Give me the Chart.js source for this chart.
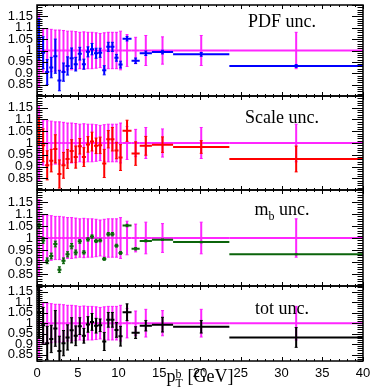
<!DOCTYPE html>
<html>
<head>
<meta charset="utf-8">
<script src="https://cdn.jsdelivr.net/npm/chart.js@4.4.1/dist/chart.umd.min.js"></script>
<style>
  html, body { margin: 0; padding: 0; background: #fff; }
  #wrap { position: relative; width: 374px; height: 392px; }
  #wrap canvas { position: absolute; left: 0; top: 0; }
</style>
</head>
<body>
<div id="wrap">
  <canvas id="p1" width="374" height="392"></canvas>
  <canvas id="p2" width="374" height="392"></canvas>
  <canvas id="p3" width="374" height="392"></canvas>
  <canvas id="p4" width="374" height="392"></canvas>
</div>
<script>
// pT bins (GeV)
const binEdges = [0, 0.5, 1, 1.5, 2, 2.5, 3, 3.5, 4, 4.5, 5, 5.5, 6, 6.5, 7, 7.5, 8, 8.5, 9, 9.5, 10, 10.5,
  11.6, 12.6, 14.1, 16.7, 23.6, 40];
// ratio central values (same in every panel)
const ratio = [1.05, 0.99, 0.905, 0.925, 0.975, 0.868, 0.905, 0.932, 0.966, 0.94, 0.986, 0.94, 0.994, 1.006,
  0.988, 0.99, 0.913, 1.016, 1.016, 0.968, 0.938, 1.052, 0.955, 0.988, 0.993, 0.983, 0.932];
// reference band (magenta), drawn at 1
const refErr = [0.16, 0.095, 0.095, 0.093, 0.09, 0.09, 0.088, 0.085, 0.085, 0.083, 0.08, 0.082, 0.08, 0.08,
  0.078, 0.075, 0.078, 0.08, 0.08, 0.08, 0.085, 0.07, 0.058, 0.066, 0.06, 0.066, 0.08];
const pdfErr = [0.09, 0.07, 0.055, 0.045, 0.075, 0.045, 0.04, 0.04, 0.045, 0.03, 0.028, 0.022, 0.022, 0.025,
  0.022, 0.02, 0.02, 0.02, 0.02, 0.015, 0.015, 0.01, 0.012, 0.01, 0.008, 0.008, 0.006];
const scaleErr = [0.06, 0.07, 0.062, 0.048, 0.06, 0.06, 0.055, 0.04, 0.048, 0.047, 0.033, 0.04, 0.033, 0.04,
  0.033, 0.035, 0.06, 0.037, 0.05, 0.035, 0.055, 0.045, 0.05, 0.04, 0.033, 0.027, 0.055];
const mbErr = [0.012, 0.012, 0.012, 0.012, 0.012, 0.012, 0.012, 0.011, 0.011, 0.01, 0.008, 0.007, 0.007, 0.007,
  0.007, 0.006, 0.006, 0.007, 0.007, 0.006, 0.006, 0.005, 0.005, 0.004, 0.003, 0.003, 0.002];
const totErr = [0.12, 0.085, 0.08, 0.065, 0.085, 0.07, 0.06, 0.06, 0.06, 0.047, 0.04, 0.035, 0.037, 0.04,
  0.035, 0.03, 0.043, 0.035, 0.035, 0.035, 0.047, 0.04, 0.028, 0.025, 0.035, 0.03, 0.047];

const yTickLabels = [0.85, 0.9, 0.95, 1, 1.05, 1.1, 1.15];
const xTickLabels = [0, 5, 10, 15, 20, 25, 30, 35, 40];
const panelLabels = [
  [{ text: 'PDF unc.' }],
  [{ text: 'Scale unc.' }],
  [{ text: 'm' }, { text: 'b', sub: true }, { text: ' unc.' }],
  [{ text: 'tot unc.' }]
];
const xTitle = [{ text: 'p' }, { text: 'T', sub: true, pair: 'b' }, { text: ' [GeV]' }];

const panels = [
  { id: 'p1', err: pdfErr, color: '#0000ff', top: 5, bottom: 96, yMin: 0.8, yMax: 1.2, labelY: 22 },
  { id: 'p2', err: scaleErr, color: '#ff0000', top: 96, bottom: 190, yMin: 0.8, yMax: 1.2, labelY: 27 },
  { id: 'p3', err: mbErr, color: '#0b640b', top: 190, bottom: 286, yMin: 0.8, yMax: 1.2, labelY: 25 },
  { id: 'p4', err: totErr, color: '#000000', top: 286, bottom: 361, yMin: 0.82, yMax: 1.177, labelY: 28, showX: true }
];

function points(values, errs) {
  return values.map((v, i) => ({
    x: (binEdges[i] + binEdges[i + 1]) / 2,
    y: v,
    xLo: binEdges[i],
    xHi: binEdges[i + 1],
    err: errs[i]
  }));
}

// ROOT style error bars, small caps on the vertical ends
const errorBars = {
  id: 'errorBars',
  afterDatasetsDraw(chart) {
    const { ctx, chartArea: a, scales: { x, y } } = chart;
    ctx.save();
    ctx.beginPath();
    ctx.rect(a.left, a.top, a.right - a.left, a.bottom - a.top);
    ctx.clip();
    chart.data.datasets.forEach((ds, i) => {
      const meta = chart.getDatasetMeta(i);
      ctx.strokeStyle = ds.borderColor;
      meta.data.forEach((pt, j) => {
        const d = ds.data[j];
        const xl = x.getPixelForValue(d.xLo), xh = x.getPixelForValue(d.xHi);
        const yt = y.getPixelForValue(d.y + d.err), yb = y.getPixelForValue(d.y - d.err);
        ctx.lineWidth = 2;
        ctx.beginPath();
        ctx.moveTo(xl, pt.y); ctx.lineTo(xh, pt.y);
        ctx.moveTo(pt.x, yt); ctx.lineTo(pt.x, yb);
        ctx.stroke();
        ctx.lineWidth = 1;
        ctx.beginPath();
        ctx.moveTo(pt.x - 1.5, yt); ctx.lineTo(pt.x + 1.5, yt);
        ctx.moveTo(pt.x - 1.5, yb); ctx.lineTo(pt.x + 1.5, yb);
        ctx.stroke();
      });
    });
    ctx.restore();
  }
};

function drawParts(ctx, parts, cx, base, size) {
  const small = Math.round(size * 0.65);
  const widths = parts.map(p => {
    ctx.font = (p.sub ? small : size) + 'px "Liberation Serif"';
    let w = ctx.measureText(p.text).width;
    if (p.pair) w = Math.max(w, ctx.measureText(p.pair).width);
    return w;
  });
  let xx = cx - widths.reduce((s, w) => s + w, 0) / 2;
  ctx.fillStyle = '#000';
  ctx.textAlign = 'left';
  ctx.textBaseline = 'alphabetic';
  parts.forEach((p, i) => {
    ctx.font = (p.sub ? small : size) + 'px "Liberation Serif"';
    ctx.fillText(p.text, xx, p.sub ? base + 5 : base);
    if (p.pair) ctx.fillText(p.pair, xx, base - 4);
    xx += widths[i];
  });
}

// frame, inside ticks on all four sides, panel text
const frameTicks = {
  id: 'frameTicks',
  afterDraw(chart, args, opts) {
    const { ctx, chartArea: a, scales: { x, y } } = chart;
    ctx.save();
    ctx.strokeStyle = '#000';
    ctx.lineWidth = 1;
    ctx.beginPath();
    for (let k = Math.ceil(y.min * 100 - 1e-6); k <= Math.floor(y.max * 100 + 1e-6); k++) {
      const py = Math.round(y.getPixelForValue(k / 100)) + 0.5;
      const len = k % 5 === 0 ? 11 : 5.5;
      ctx.moveTo(a.left, py); ctx.lineTo(a.left + len, py);
      ctx.moveTo(a.right, py); ctx.lineTo(a.right - len, py);
    }
    for (let k = 0; k <= 40; k++) {
      const px = Math.round(x.getPixelForValue(k)) + 0.5;
      const len = k % 5 === 0 ? 4 : 2;
      ctx.moveTo(px, a.top); ctx.lineTo(px, a.top + len);
      ctx.moveTo(px, a.bottom); ctx.lineTo(px, a.bottom - len);
    }
    ctx.stroke();
    ctx.lineWidth = 1.5;
    ctx.strokeRect(a.left, a.top, a.right - a.left, a.bottom - a.top);

    drawParts(ctx, opts.label, a.left + 245, a.top + opts.labelY, 18);
    if (opts.title) {
      drawParts(ctx, xTitle, (a.left + a.right) / 2, 382, 18);
    }
    ctx.restore();
  }
};

panels.forEach((p, n) => {
  new Chart(document.getElementById(p.id), {
    type: 'scatter',
    data: {
      datasets: [
        { data: points(ratio.map(() => 1), refErr), borderColor: 'rgba(255,0,255,0.85)', pointRadius: 0 },
        { data: points(ratio, p.err), borderColor: p.color, pointRadius: 0 }
      ]
    },
    options: {
      responsive: false,
      animation: false,
      events: [],
      layout: { padding: { top: p.top, bottom: p.showX ? 0 : 392 - p.bottom, left: 0, right: 11 } },
      plugins: {
        legend: { display: false },
        tooltip: { enabled: false },
        frameTicks: { label: panelLabels[n], labelY: p.labelY, title: !!p.showX }
      },
      scales: {
        x: {
          type: 'linear',
          min: 0,
          max: 40,
          display: !!p.showX,
          grid: { display: false, drawTicks: false },
          border: { display: false },
          afterBuildTicks: s => { s.ticks = xTickLabels.map(v => ({ value: v })); },
          afterFit: s => {
            if (p.showX) s.height = 392 - p.bottom;
            s.paddingLeft = 0; s.paddingRight = 0;
          },
          ticks: {
            autoSkip: false,
            maxRotation: 0,
            padding: 5,
            color: '#000',
            font: { family: 'Liberation Sans', size: 13 }
          }
        },
        y: {
          min: p.yMin,
          max: p.yMax,
          grid: { display: false, drawTicks: false },
          border: { display: false },
          afterBuildTicks: s => { s.ticks = yTickLabels.map(v => ({ value: v })); },
          afterFit: s => { s.width = 37; s.paddingTop = 0; s.paddingBottom = 0; },
          ticks: {
            autoSkip: false,
            padding: 4,
            color: '#000',
            font: { family: 'Liberation Sans', size: 13 },
            callback: v => String(v)
          }
        }
      }
    },
    plugins: [errorBars, frameTicks]
  });
});
</script>
</body>
</html>
